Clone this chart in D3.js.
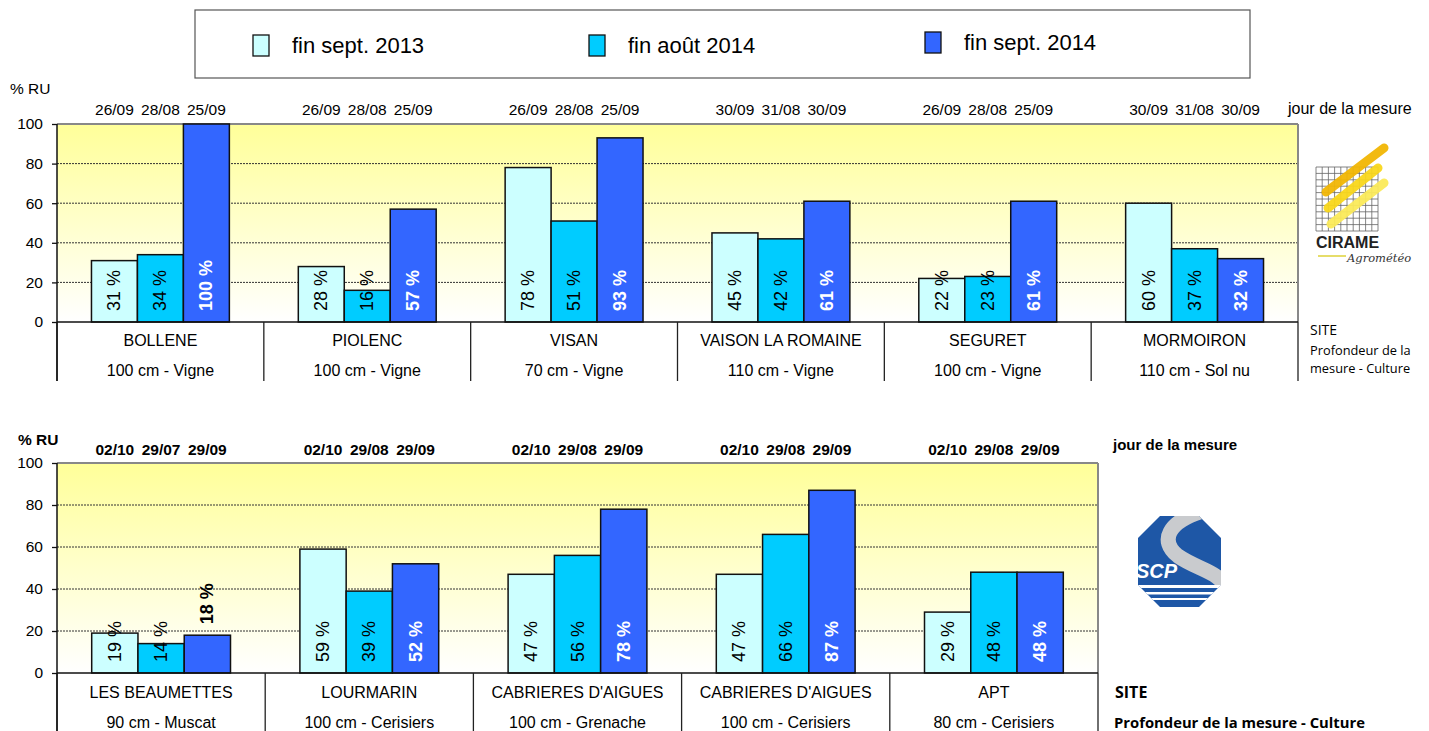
<!DOCTYPE html>
<html>
<head>
<meta charset="utf-8">
<script src="https://cdn.jsdelivr.net/npm/d3@7"></script>
<style>
body { margin: 0; background: #fff; }
svg text { font-family: 'Liberation Sans', Arial, sans-serif; }
</style>
</head>
<body>
<svg id="chart" width="1429" height="731"></svg>
<script>
// series (legend)
var seriesNames = ['fin sept. 2013', 'fin août 2014', 'fin sept. 2014']
var seriesColors = ['#CCFFFF', '#00CCFF', '#3366FF']
var yTicks = [0, 20, 40, 60, 80, 100]

// top panel (Vaucluse nord - CIRAME)
var topSites = ['BOLLENE', 'PIOLENC', 'VISAN', 'VAISON LA ROMAINE', 'SEGURET', 'MORMOIRON']
var topDepths = ['100 cm - Vigne', '100 cm - Vigne', '70 cm - Vigne', '110 cm - Vigne', '100 cm - Vigne', '110 cm - Sol nu']
var topDates = [
  ['26/09', '28/08', '25/09'], ['26/09', '28/08', '25/09'], ['26/09', '28/08', '25/09'],
  ['30/09', '31/08', '30/09'], ['26/09', '28/08', '25/09'], ['30/09', '31/08', '30/09']
]
var topSep2013 = [31, 28, 78, 45, 22, 60]
var topAug2014 = [34, 16, 51, 42, 23, 37]
var topSep2014 = [100, 57, 93, 61, 61, 32]

// bottom panel (Luberon - SCP)
var botSites = ['LES BEAUMETTES', 'LOURMARIN', "CABRIERES D'AIGUES", "CABRIERES D'AIGUES", 'APT']
var botDepths = ['90 cm - Muscat', '100 cm - Cerisiers', '100 cm - Grenache', '100 cm - Cerisiers', '80 cm - Cerisiers']
var botDates = [
  ['02/10', '29/07', '29/09'], ['02/10', '29/08', '29/09'], ['02/10', '29/08', '29/09'],
  ['02/10', '29/08', '29/09'], ['02/10', '29/08', '29/09']
]
var botSep2013 = [19, 59, 47, 47, 29]
var botAug2014 = [14, 39, 56, 66, 48]
var botSep2014 = [18, 52, 78, 87, 48]

var svg = d3.select('#chart')
var calibri = "'Open Sans', 'Noto Sans', sans-serif"

var defs = svg.append('defs')
var grad = defs.append('linearGradient').attr('id', 'bg').attr('x1', 0).attr('y1', 0).attr('x2', 0).attr('y2', 1)
grad.append('stop').attr('offset', '0%').attr('stop-color', '#FFFF99')
grad.append('stop').attr('offset', '100%').attr('stop-color', '#FFFFFF')

// Legend box
var legend = svg.append('g')
legend.append('rect').attr('x', 195).attr('y', 10).attr('width', 1055).attr('height', 68)
  .attr('fill', '#fff').attr('stroke', '#555').attr('stroke-width', 1.2)
var legX = d3.scalePoint().domain(seriesNames).range([253, 925])
seriesNames.forEach(function(name, i) {
  var lx = legX(name)
  var dy = i === 2 ? -3 : 0
  legend.append('rect').attr('x', lx).attr('y', 35 + dy).attr('width', 16).attr('height', 21)
    .attr('fill', seriesColors[i]).attr('stroke', '#111').attr('stroke-width', 1.3)
  legend.append('text').attr('x', lx + 39).attr('y', 53 + dy)
    .attr('font-size', 22).attr('fill', '#000').text(name)
})

function drawPanel(p) {
  var g = svg.append('g')
  var n = p.sites.length
  var values = [p.s0, p.s1, p.s2]

  var x = d3.scaleBand().domain(d3.range(n)).range([p.left, p.right])
  var xs = d3.scaleBand().domain([0, 1, 2]).range([0, x.bandwidth()]).paddingOuter(0.75)
  var y = d3.scaleLinear().domain([0, 100]).range([p.bottom, p.top])

  // plot background
  g.append('rect').attr('x', p.left).attr('y', p.top)
    .attr('width', p.right - p.left).attr('height', p.bottom - p.top).attr('fill', 'url(#bg)')

  // grid
  g.selectAll('line.grid').data(yTicks.filter(function(t) { return t > 0 && t < 100 }))
    .join('line').attr('class', 'grid')
    .attr('x1', p.left).attr('x2', p.right).attr('y1', y).attr('y2', y)
    .attr('stroke', '#333').attr('stroke-width', 1).attr('stroke-dasharray', '2,1')
  g.append('line').attr('x1', p.left).attr('x2', p.right).attr('y1', y(100)).attr('y2', y(100))
    .attr('stroke', '#888').attr('stroke-width', 2)
  g.append('line').attr('x1', p.right).attr('x2', p.right).attr('y1', y(100)).attr('y2', y(0))
    .attr('stroke', '#888').attr('stroke-width', 2)

  // bars
  var bars = []
  values.forEach(function(arr, s) {
    arr.forEach(function(v, i) { bars.push({ i: i, s: s, v: v }) })
  })
  g.selectAll('rect.bar').data(bars).join('rect').attr('class', 'bar')
    .attr('x', function(d) { return x(d.i) + xs(d.s) })
    .attr('width', xs.bandwidth())
    .attr('y', function(d) { return y(d.v) })
    .attr('height', function(d) { return y(0) - y(d.v) })
    .attr('fill', function(d) { return seriesColors[d.s] })
    .attr('stroke', '#111').attr('stroke-width', 1.5)

  // value labels (rotated)
  g.selectAll('text.val').data(bars).join('text').attr('class', 'val')
    .attr('transform', function(d) {
      var cx = x(d.i) + xs(d.s) + xs.bandwidth() / 2
      var outside = d.s === 2 && d.v < 20
      var ly = outside ? y(d.v) - 11 : y(0) - 11
      return 'translate(' + cx + ',' + ly + ') rotate(-90)'
    })
    .attr('dominant-baseline', 'central')
    .attr('font-size', 18)
    .attr('font-weight', function(d) { return d.s === 2 ? 'bold' : 'normal' })
    .attr('fill', function(d) { return d.s === 2 && d.v >= 20 ? '#fff' : '#000' })
    .text(function(d) { return d.v + ' %' })

  // baseline and table lines
  g.append('line').attr('x1', p.left).attr('x2', p.right).attr('y1', y(0)).attr('y2', y(0))
    .attr('stroke', '#111').attr('stroke-width', 1.5)
  var seps = d3.range(n).map(function(i) { return x(i) }).concat([p.right])
  g.selectAll('line.sep').data(seps).join('line').attr('class', 'sep')
    .attr('x1', function(d) { return d }).attr('x2', function(d) { return d })
    .attr('y1', y(0)).attr('y2', p.tableBottom)
    .attr('stroke', '#222').attr('stroke-width', 1.3)

  // y axis
  var ax = g.append('g').attr('transform', 'translate(' + p.left + ',0)')
    .call(d3.axisLeft(y).tickValues(yTicks).tickSize(5).tickPadding(9))
  ax.select('.domain').remove()
  ax.selectAll('.tick line').attr('stroke', '#111').attr('stroke-width', 1.3)
  ax.selectAll('.tick text').attr('font-size', 15.5).attr('fill', '#000')
    .attr('font-family', "'Liberation Sans', Arial, sans-serif")
  g.append('line').attr('x1', p.left).attr('x2', p.left).attr('y1', y(100)).attr('y2', p.tableBottom)
    .attr('stroke', '#111').attr('stroke-width', 1.5)

  // category labels
  g.selectAll('text.site').data(p.sites).join('text').attr('class', 'site')
    .attr('x', function(d, i) { return x(i) + x.bandwidth() / 2 }).attr('y', p.nameY)
    .attr('text-anchor', 'middle').attr('font-size', 16).text(function(d) { return d })
  g.selectAll('text.depth').data(p.depths).join('text').attr('class', 'depth')
    .attr('x', function(d, i) { return x(i) + x.bandwidth() / 2 }).attr('y', p.subY)
    .attr('text-anchor', 'middle').attr('font-size', 16).text(function(d) { return d })

  // measurement dates
  var dl = []
  p.dates.forEach(function(arr, i) {
    arr.forEach(function(t, s) { dl.push({ i: i, s: s, t: t }) })
  })
  g.selectAll('text.date').data(dl).join('text').attr('class', 'date')
    .attr('x', function(d) { return x(d.i) + xs(d.s) + xs.bandwidth() / 2 })
    .attr('y', p.dateY).attr('text-anchor', 'middle')
    .attr('font-size', 15.5).attr('font-weight', p.bold ? 'bold' : 'normal')
    .text(function(d) { return d.t })

  g.append('text').attr('x', p.ruX).attr('y', p.ruY).attr('font-size', 15.5)
    .attr('font-weight', p.bold ? 'bold' : 'normal').text('% RU')
}

drawPanel({
  sites: topSites, depths: topDepths, dates: topDates,
  s0: topSep2013, s1: topAug2014, s2: topSep2014,
  left: 57, right: 1298, top: 124, bottom: 322, tableBottom: 381,
  nameY: 346, subY: 376, dateY: 115, ruX: 10, ruY: 94, bold: false
})
drawPanel({
  sites: botSites, depths: botDepths, dates: botDates,
  s0: botSep2013, s1: botAug2014, s2: botSep2014,
  left: 57, right: 1098, top: 463, bottom: 673, tableBottom: 731,
  nameY: 698, subY: 728, dateY: 455, ruX: 18, ruY: 445, bold: true
})

// side notes, top
svg.append('text').attr('x', 1288).attr('y', 114).attr('font-size', 16).text('jour de la mesure')
svg.append('text').attr('x', 1310).attr('y', 335).attr('font-size', 14).style('font-family', calibri).text('SITE')
svg.append('text').attr('x', 1310).attr('y', 355).attr('font-size', 12.8).style('font-family', calibri).text('Profondeur de la')
svg.append('text').attr('x', 1310).attr('y', 373).attr('font-size', 12.8).style('font-family', calibri).text('mesure - Culture')

// side notes, bottom
svg.append('text').attr('x', 1113).attr('y', 450).attr('font-size', 15).attr('font-weight', 'bold').text('jour de la mesure')
svg.append('text').attr('x', 1115).attr('y', 698).attr('font-size', 16).attr('font-weight', 'bold').style('font-family', calibri).text('SITE')
svg.append('text').attr('x', 1114).attr('y', 728).attr('font-size', 14.8).attr('font-weight', 'bold').style('font-family', calibri).text('Profondeur de la mesure - Culture')

// CIRAME logo
var cir = svg.append('g')
d3.range(11).forEach(function(k) {
  cir.append('line').attr('x1', 1316 + k * 6.2).attr('x2', 1316 + k * 6.2).attr('y1', 167).attr('y2', 231)
    .attr('stroke', '#666').attr('stroke-width', 0.8)
  cir.append('line').attr('x1', 1316).attr('x2', 1378).attr('y1', 167 + k * 6.4).attr('y2', 167 + k * 6.4)
    .attr('stroke', '#666').attr('stroke-width', 0.8)
})
var strokes = [
  { a: [1326, 192], b: [1384, 148], c: '#F2B705' },
  { a: [1328, 208], b: [1378, 168], c: '#F9D71C' },
  { a: [1331, 224], b: [1384, 183], c: '#FBEA5A' }
]
strokes.forEach(function(s) {
  cir.append('line').attr('x1', s.a[0]).attr('y1', s.a[1]).attr('x2', s.b[0]).attr('y2', s.b[1])
    .attr('stroke', s.c).attr('stroke-width', 9).attr('stroke-linecap', 'round').attr('opacity', 0.95)
})
cir.append('text').attr('x', 1316).attr('y', 248).attr('font-size', 16).attr('font-weight', 'bold')
  .attr('fill', '#222').text('CIRAME')
cir.append('line').attr('x1', 1318).attr('x2', 1346).attr('y1', 256).attr('y2', 256)
  .attr('stroke', '#E6DD6A').attr('stroke-width', 2)
cir.append('text').attr('x', 1347).attr('y', 262).attr('font-size', 11.5).attr('font-style', 'italic')
  .style('font-family', "'DejaVu Serif', serif").attr('fill', '#333').text('Agrométéo')

// SCP logo
var scp = svg.append('g')
var ox0 = 1138, ox1 = 1221, oy0 = 516, oy1 = 607, cut = 22
var oct = [[ox0 + cut, oy0], [ox1 - cut, oy0], [ox1, oy0 + cut], [ox1, oy1 - cut],
  [ox1 - cut, oy1], [ox0 + cut, oy1], [ox0, oy1 - cut], [ox0, oy0 + cut]]
defs.append('clipPath').attr('id', 'octclip').append('polygon').attr('points', oct.join(' '))
scp.append('polygon').attr('points', oct.join(' ')).attr('fill', '#1E57A6')
var sc = scp.append('g').attr('clip-path', 'url(#octclip)')
sc.append('path').attr('d', 'M1200,512 C1170,522 1158,540 1178,556 C1198,570 1222,572 1226,590')
  .attr('fill', 'none').attr('stroke', '#C9CBCE').attr('stroke-width', 15)
sc.append('rect').attr('x', 1138).attr('y', 585).attr('width', 83).attr('height', 3).attr('fill', '#fff')
sc.append('rect').attr('x', 1138).attr('y', 592).attr('width', 83).attr('height', 2.5).attr('fill', '#fff')
sc.append('rect').attr('x', 1138).attr('y', 598).attr('width', 83).attr('height', 2).attr('fill', '#fff')
sc.append('text').attr('x', 1136).attr('y', 578).attr('font-size', 20).attr('font-weight', 'bold')
  .attr('font-style', 'italic').attr('fill', '#fff').text('SCP')
</script>
</body>
</html>
